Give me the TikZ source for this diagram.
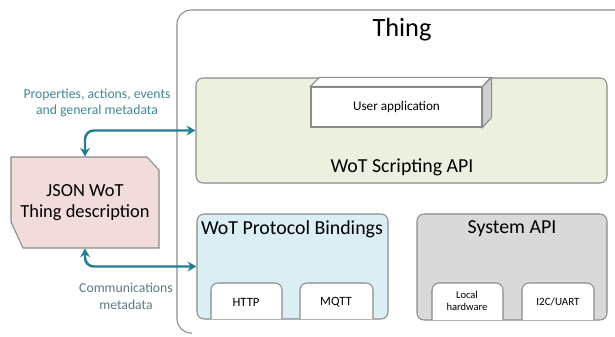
\documentclass[tikz,border=0pt]{standalone}
\usepackage{fontspec}
\setmainfont{Carlito}
\usetikzlibrary{arrows.meta,fit}
\definecolor{linkteal}{HTML}{1F7F91}
\definecolor{noteteal}{HTML}{3F8799}
\definecolor{notegrey}{HTML}{5A7A85}
\definecolor{boxgrey}{HTML}{8A8A8A}
\definecolor{scriptgreen}{HTML}{EBF1DF}
\definecolor{bindblue}{HTML}{DBEEF4}
\definecolor{sysgrey}{HTML}{D9D9D9}
\definecolor{sidegrey}{HTML}{CFCFCF}
\definecolor{jsonpink}{HTML}{F2DCDB}
\tikzset{
  block/.style={draw=boxgrey,line width=0.6pt,rounded corners=4pt,inner sep=0pt},
  tab/.style={draw=boxgrey,fill=white,line width=0.6pt,rounded corners=4pt},
  face/.style={draw=boxgrey,line width=0.6pt},
  flow/.style={draw=linkteal,line width=1.4pt,rounded corners=5pt,
    {Stealth[length=5pt,width=5.5pt]}-{Stealth[length=5pt,width=5.5pt]}},
  note/.style={align=center,font=\fontsize{7.8}{9.6}\selectfont},
  title/.style={font=\fontsize{11.3}{13}\selectfont},
  small/.style={font=\fontsize{7.2}{8.5}\selectfont},
  tiny/.style={align=center,font=\fontsize{6}{7}\selectfont}
}
\begin{document}
\begin{tikzpicture}[x=0.02cm,y=-0.02cm]
  \useasboundingbox (0,0) rectangle (615,337);
  % thing frame, open to the right
  \draw[draw=boxgrey,line width=0.6pt,rounded corners=8pt]
    (615,10) -| (177,333) -- (192,333);
  \node[font=\fontsize{15}{18}\selectfont] (thing) at (402,30) {Thing};

  % scripting layer
  \node[block,fill=scriptgreen,fit={(196,78) (607,183)}] (script) {};
  \node[title] (scriptlbl) at (402,167) {WoT Scripting API};
  \node[face,fill=white,inner sep=0pt,fit={(311,87) (482,127)}] (app) {};
  \node[font=\fontsize{7.5}{9}\selectfont] (applbl) at (app.center) {User application};
  \draw[face,fill=white] (app.north west) -- ++(9,-9) -- ++(171,0)
    -- (app.north east) -- cycle;
  \draw[face,fill=sidegrey] (app.north east) -- ++(9,-9) -- ++(0,40)
    -- (app.south east) -- cycle;

  % protocol bindings
  \node[block,fill=bindblue,fit={(197,214) (388,319)}] (bind) {};
  \node[title] (bindlbl) at (292,229) {WoT Protocol Bindings};
  \draw[tab] (211,319) |- (246,283) -| (282,319);
  \node[small] (http) at (246,302) {HTTP};
  \draw[tab] (300,319) |- (336,283) -| (373,319);
  \node[small] (mqtt) at (336,302) {MQTT};

  % system api
  \node[block,fill=sysgrey,fit={(417,214) (607,320)}] (sys) {};
  \node[title] (syslbl) at (512,229) {System API};
  \draw[tab] (432,320) |- (467,283) -| (503,320);
  \node[tiny] (local) at (467,301) {Local\\hardware};
  \draw[tab] (522,320) |- (558,283) -| (594,320);
  \node[small,font=\fontsize{6.3}{7.5}\selectfont] (i2c) at (558,302) {I2C/UART};

  % thing description
  \draw[face,fill=jsonpink] (11,157) -- (147,157) -- (159,170) -- (159,248)
    -- (23,248) -- (11,222) -- cycle;
  \node[inner sep=0pt,fit={(11,157) (159,248)}] (json) {};
  \node[align=center,font=\fontsize{10.5}{11.5}\selectfont] (jsonlbl)
    at (json.center) {JSON WoT\\Thing description};

  % links
  \draw[flow] (json.north) |- (script.west);
  \draw[flow] (json.south) |- (bind.west);
  \node[note,text=noteteal] (metalbl) at (97,103)
    {Properties, actions, events\\and general metadata};
  \node[note,text=notegrey] (commlbl) at (126,296)
    {Communications\\metadata};
\end{tikzpicture}
\end{document}
